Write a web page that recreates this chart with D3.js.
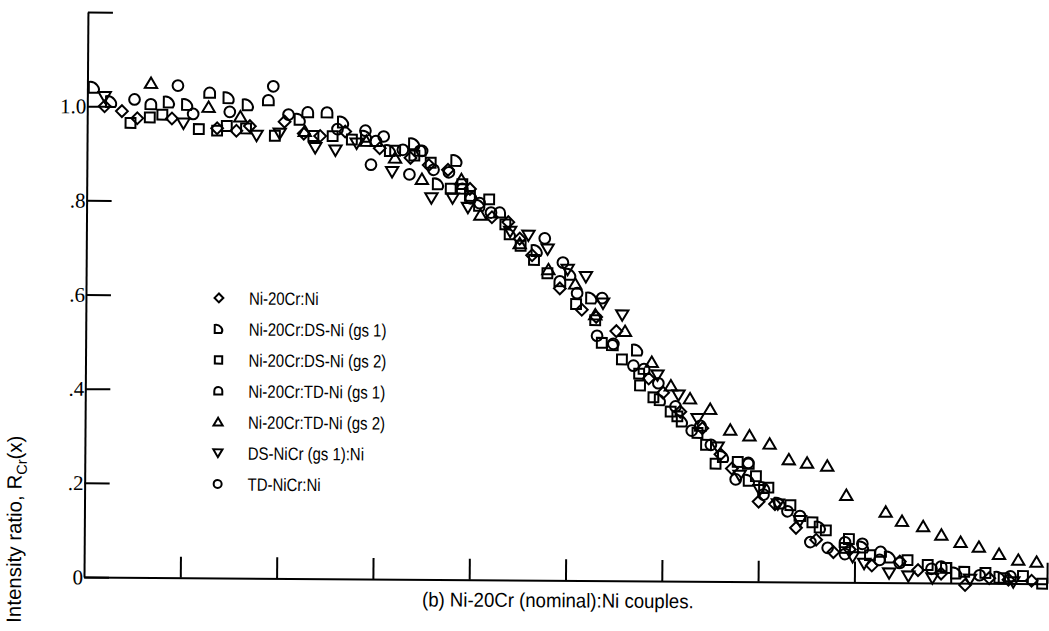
<!DOCTYPE html>
<html>
<head>
<meta charset="utf-8">
<script src="https://cdn.jsdelivr.net/npm/d3@7"></script>
<style>
  body { margin: 0; background: #fff; }
  svg { display: block; }
  .lbl { font-family: "Liberation Sans", "DejaVu Sans", sans-serif; fill: #000; }
</style>
</head>
<body>
<svg id="chart" width="1049" height="631"></svg>
<script>
// ---- data: position x (arbitrary units), intensity ratio R_Cr(x) ----
const seriesNames = [
  "Ni-20Cr:Ni",
  "Ni-20Cr:DS-Ni (gs 1)",
  "Ni-20Cr:DS-Ni (gs 2)",
  "Ni-20Cr:TD-Ni (gs 1)",
  "Ni-20Cr:TD-Ni (gs 2)",
  "DS-NiCr (gs 1):Ni",
  "TD-NiCr:Ni"
];

const niCrNi = [[0.18,1.00],[0.36,0.99],[0.52,0.975],[0.88,0.975],[1.35,0.955],[1.55,0.95],[1.69,0.96],[2.05,0.97],[2.25,0.945],[2.42,0.94],[2.68,0.95],[3.04,0.915],[3.36,0.895],[3.55,0.88],[3.75,0.87],[3.98,0.83],[4.21,0.77],[4.38,0.76],[4.50,0.725],[4.63,0.69],[4.92,0.62],[5.15,0.575],[5.30,0.56],[5.51,0.53],[5.85,0.43],[6.00,0.40],[6.18,0.36],[6.41,0.325],[6.60,0.27],[6.72,0.24],[7.00,0.17],[7.17,0.165],[7.39,0.115],[7.60,0.09],[7.78,0.064],[7.95,0.07],[8.18,0.036],[8.47,0.045],[8.66,0.027],[8.90,0.02],[9.15,-0.004],[9.40,0.011],[9.60,0.008],[9.84,0.006]];

const dsNiGs1 = [[0.07,1.04],[0.25,1.01],[0.85,1.01],[1.04,1.005],[1.47,1.02],[1.67,1.005],[2.21,0.975],[2.66,0.97],[2.90,0.94],[3.15,0.91],[3.40,0.925],[3.65,0.84],[3.84,0.89],[4.08,0.795],[4.40,0.735],[4.68,0.70],[5.03,0.65],[5.25,0.60],[5.73,0.49],[5.97,0.385],[6.20,0.34],[6.63,0.265],[6.90,0.215],[7.06,0.20],[7.22,0.167],[7.64,0.117],[8.09,0.075],[8.37,0.054],[9.06,0.021],[9.51,0.013]];

const dsNiGs2 = [[0.45,0.965],[0.65,0.977],[0.78,0.983],[1.16,0.953],[1.35,0.95],[1.45,0.96],[1.65,0.955],[1.95,0.94],[2.35,0.94],[2.55,0.94],[2.75,0.933],[3.20,0.91],[3.40,0.90],[3.57,0.885],[3.78,0.83],[3.90,0.84],[3.98,0.815],[4.18,0.808],[4.35,0.755],[4.51,0.71],[4.65,0.68],[4.79,0.652],[5.09,0.587],[5.29,0.553],[5.36,0.505],[5.57,0.47],[5.75,0.44],[5.76,0.415],[5.90,0.39],[6.08,0.36],[6.15,0.35],[6.36,0.315],[6.45,0.29],[6.55,0.25],[6.78,0.254],[6.97,0.224],[7.10,0.20],[7.33,0.163],[7.56,0.127],[7.70,0.11],[7.94,0.092],[7.90,0.073],[8.16,0.058],[8.55,0.048],[8.76,0.038],[8.95,0.032],[9.14,0.024],[9.36,0.022],[9.55,0.011],[9.75,0.016],[9.95,0.0]];

const tdNiGs1 = [[0.66,1.005],[1.27,1.03],[1.88,1.015],[2.29,0.99],[2.49,0.99],[3.00,0.93],[3.46,0.91],[3.90,0.83],[4.29,0.78],[4.92,0.635],[5.47,0.50],[5.80,0.45],[6.39,0.33],[6.89,0.25],[7.43,0.14],[7.90,0.085],[8.27,0.065],[8.90,0.035],[9.62,0.015]];

const tdNiGs2 = [[0.66,1.05],[1.26,1.00],[1.59,0.98],[2.26,0.95],[2.90,0.93],[3.20,0.895],[3.48,0.85],[3.89,0.85],[4.09,0.775],[4.50,0.715],[4.80,0.66],[5.08,0.63],[5.29,0.565],[5.60,0.53],[5.88,0.465],[6.08,0.415],[6.28,0.388],[6.49,0.366],[6.70,0.322],[6.90,0.31],[7.11,0.293],[7.31,0.26],[7.50,0.253],[7.71,0.247],[7.91,0.185],[8.32,0.15],[8.49,0.131],[8.71,0.12],[8.90,0.102],[9.10,0.087],[9.29,0.077],[9.50,0.062],[9.70,0.05],[9.89,0.046]];

const dsNiCrNi = [[0.18,1.02],[1.00,0.965],[1.76,0.94],[2.00,0.945],[2.37,0.915],[2.58,0.91],[2.80,0.925],[3.17,0.865],[3.58,0.81],[3.80,0.81],[3.96,0.79],[4.40,0.74],[4.59,0.732],[4.79,0.703],[5.00,0.66],[5.19,0.645],[5.37,0.589],[5.57,0.564],[5.94,0.437],[6.16,0.395],[6.36,0.345],[6.57,0.285],[6.80,0.225],[7.01,0.195],[7.20,0.165],[7.43,0.13],[7.98,0.054],[8.10,0.04],[8.36,0.020],[8.56,0.014],[8.81,0.010],[9.20,0.008],[9.65,0.003]];

const tdNiCrNi = [[0.49,1.015],[0.94,1.045],[1.10,0.985],[1.48,0.99],[1.93,1.045],[2.09,0.985],[2.60,0.955],[2.89,0.952],[2.95,0.88],[3.08,0.94],[3.28,0.912],[3.35,0.86],[3.48,0.91],[3.60,0.87],[3.76,0.865],[3.99,0.81],[4.08,0.80],[4.20,0.78],[4.76,0.726],[4.95,0.675],[5.10,0.61],[5.36,0.60],[5.31,0.52],[5.48,0.503],[5.69,0.457],[5.95,0.42],[6.13,0.371],[6.30,0.32],[6.50,0.29],[6.76,0.217],[6.89,0.252],[7.05,0.185],[7.30,0.15],[7.54,0.085],[7.72,0.073],[7.90,0.06],[8.08,0.082],[8.26,0.048],[8.47,0.042],[8.80,0.03],[9.30,0.017]];

const yTicks = [0, 0.2, 0.4, 0.6, 0.8, 1.0, 1.2];
const yTickLabels = ["0", ".2", ".4", ".6", ".8", "1.0", ""];
const xTicks = [1, 2, 3, 4, 5, 6, 7, 8, 9, 10];
const caption = "(b) Ni-20Cr (nominal):Ni couples.";

// ---- open marker shapes ----
const rOf = s => Math.sqrt(s) / 2;
const shapes = {
  diamond: { draw(c, s) { const r = rOf(s) * 1.1; c.moveTo(0, -r); c.lineTo(r, 0); c.lineTo(0, r); c.lineTo(-r, 0); c.closePath(); } },
  dee: { draw(c, s) { const r = rOf(s); c.moveTo(-r, -r); c.lineTo(-r, r); c.lineTo(r * 0.7, r);
                        c.bezierCurveTo(r * 1.35, r * 0.1, r * 0.2, -r * 1.25, -r, -r); c.closePath(); } },
  square: { draw(c, s) { const r = rOf(s) * 0.92; c.rect(-r, -r, 2 * r, 2 * r); } },
  arch: { draw(c, s) { const r = rOf(s); c.moveTo(-r, r * 0.9); c.lineTo(-r, 0); c.arc(0, 0, r, Math.PI, 0); c.lineTo(r, r * 0.9); c.closePath(); } },
  triUp: { draw(c, s) { const r = rOf(s); c.moveTo(0, -r * 1.05); c.lineTo(r * 1.15, r * 0.9); c.lineTo(-r * 1.15, r * 0.9); c.closePath(); } },
  triDown: { draw(c, s) { const r = rOf(s); c.moveTo(0, r * 1.05); c.lineTo(r * 1.15, -r * 0.9); c.lineTo(-r * 1.15, -r * 0.9); c.closePath(); } },
  circle: { draw(c, s) { const r = rOf(s); c.moveTo(r, 0); c.arc(0, 0, r, 0, 2 * Math.PI); } }
};

const series = [
  { name: seriesNames[0], values: niCrNi,   shape: shapes.diamond },
  { name: seriesNames[1], values: dsNiGs1,  shape: shapes.dee },
  { name: seriesNames[2], values: dsNiGs2,  shape: shapes.square },
  { name: seriesNames[3], values: tdNiGs1,  shape: shapes.arch },
  { name: seriesNames[4], values: tdNiGs2,  shape: shapes.triUp },
  { name: seriesNames[5], values: dsNiCrNi, shape: shapes.triDown },
  { name: seriesNames[6], values: tdNiCrNi, shape: shapes.circle }
];

const svg = d3.select("#chart");
const x = d3.scaleLinear().domain([0, 10]).range([84, 1047]);
const y = d3.scaleLinear().domain([0, 1.2]).range([577, 12]);

// the whole figure sits a touch off square on the page
const fig = svg.append("g").attr("transform", `rotate(0.4, ${x(0)}, ${y(0)})`);

// y axis: inward ticks, labels hugging the axis
const yAxis = fig.append("g")
  .attr("transform", `translate(${x(0)},0)`)
  .call(d3.axisLeft(y).tickValues(yTicks)
    .tickFormat((d, i) => yTickLabels[i])
    .tickSizeInner(-25).tickSizeOuter(0).tickPadding(1));
yAxis.select(".domain").attr("stroke-width", 2);
yAxis.selectAll(".tick line").attr("stroke-width", 2);
yAxis.selectAll(".tick text")
  .attr("font-family", "'Liberation Serif', serif")
  .attr("font-size", 21).attr("fill", "#000");

// x axis: upward unlabeled ticks
const xAxis = fig.append("g")
  .attr("transform", `translate(0,${y(0)})`)
  .call(d3.axisBottom(x).tickValues(xTicks).tickFormat("")
    .tickSizeInner(-21).tickSizeOuter(0));
xAxis.select(".domain").attr("stroke-width", 2);
xAxis.selectAll(".tick line").attr("stroke-width", 2);

// data points
const sym = d3.symbol().size(115);
series.forEach(s => {
  fig.append("g")
    .selectAll("path")
    .data(s.values)
    .join("path")
    .attr("transform", d => `translate(${x(d[0])},${y(d[1])})`)
    .attr("d", sym.type(s.shape)())
    .attr("fill", "none")
    .attr("stroke", "#000")
    .attr("stroke-width", 2);
});

// legend (narrow lettering)
const legend = fig.append("g").attr("transform", "translate(217,297)");
const rows = legend.selectAll("g").data(series).join("g")
  .attr("transform", (d, i) => `translate(0,${i * 31})`);
rows.append("path")
  .attr("d", d => d3.symbol().type(d.shape).size(64)())
  .attr("fill", "none").attr("stroke", "#000").attr("stroke-width", 2);
rows.append("text")
  .attr("class", "lbl")
  .attr("transform", "translate(30,0) scale(0.83,1)")
  .attr("dy", "0.36em")
  .attr("font-size", 18)
  .text(d => d.name);

// y-axis title
const yt = fig.append("text")
  .attr("class", "lbl")
  .attr("transform", "translate(21,436) rotate(-90)")
  .attr("text-anchor", "end")
  .attr("font-size", 20.5);
yt.append("tspan").text("Intensity ratio, R");
yt.append("tspan").attr("font-size", 14.5).attr("dy", 5).text("Cr");
yt.append("tspan").attr("dy", -5).text("(x)");

// caption
fig.append("text")
  .attr("class", "lbl")
  .attr("transform", "translate(558,604) scale(0.93,1)")
  .attr("text-anchor", "middle")
  .attr("font-size", 20)
  .text(caption);
</script>
</body>
</html>
